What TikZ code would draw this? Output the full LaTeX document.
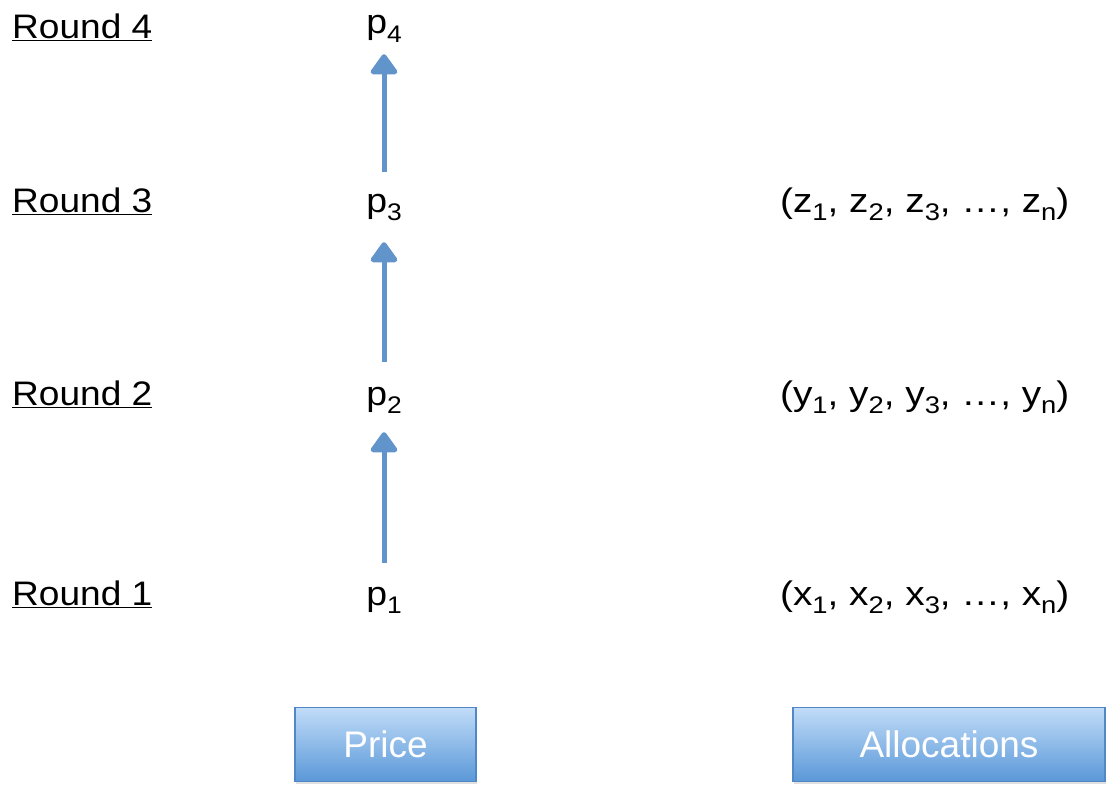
\documentclass[tikz,border=0pt]{standalone}
\usepackage{fontspec}
\setmainfont{Liberation Sans}
\usetikzlibrary{arrows.meta,shadows}
\definecolor{arrowblue}{RGB}{98,148,204}
\definecolor{boxtop}{RGB}{193,220,248}
\definecolor{boxbot}{RGB}{90,152,216}
\definecolor{boxline}{RGB}{82,135,198}
\newcommand{\lsub}[1]{\raisebox{-0.26em}{\fontsize{24}{24}\selectfont #1}}
\newcommand{\wide}[2]{\scalebox{#1}[1]{#2}}
\tikzset{
  roundlbl/.style={anchor=base west,inner sep=0pt,font=\fontsize{34}{40}\selectfont},
  plbl/.style={anchor=base,inner sep=0pt,text height=20pt,text depth=8pt,font=\fontsize{34}{40}\selectfont},
  tuple/.style={anchor=base west,inner sep=0pt,font=\fontsize{34}{40}\selectfont},
  uparrow/.style={draw=arrowblue,line width=5pt,-{Triangle[width=30pt,length=22pt,round]}},
  btn/.style={draw=boxline,line width=1.2pt,top color=boxtop,bottom color=boxbot,
    text=white,font=\fontsize{37}{40}\selectfont,minimum height=74pt,inner sep=0pt,
    drop shadow={opacity=0.25,shadow xshift=1pt,shadow yshift=-2pt}}
}
\begin{document}
\begin{tikzpicture}[x=1pt,y=-1pt]
\useasboundingbox (0,0) rectangle (1107,784);
% round labels
\node[roundlbl] (r4) at (12,38) {\wide{1.09}{\underline{Round 4}}};
\node[roundlbl] (r3) at (12,212) {\wide{1.09}{\underline{Round 3}}};
\node[roundlbl] (r2) at (12,405) {\wide{1.09}{\underline{Round 2}}};
\node[roundlbl] (r1) at (12,605) {\wide{1.09}{\underline{Round 1}}};
% prices
\node[plbl] (p4) at (384,34) {\wide{1.1}{p\lsub{4}}};
\node[plbl] (p3) at (384,212) {\wide{1.1}{p\lsub{3}}};
\node[plbl] (p2) at (384,405) {\wide{1.1}{p\lsub{2}}};
\node[plbl] (p1) at (384,605) {\wide{1.1}{p\lsub{1}}};
% arrows
\draw[uparrow,shorten <=22pt,shorten >=19pt] (p1.north) -- (p2.south);
\draw[uparrow,shorten <=23pt,shorten >=22pt] (p2.north) -- (p3.south);
\draw[uparrow,shorten <=20pt,shorten >=12pt] (p3.north) -- (p4.south);
% allocations
\node[tuple] (z) at (780,212) {\wide{1.14}{(z\lsub{1}, z\lsub{2}, z\lsub{3}, \dots, z\lsub{n})}};
\node[tuple] (y) at (780,405) {\wide{1.14}{(y\lsub{1}, y\lsub{2}, y\lsub{3}, \dots, y\lsub{n})}};
\node[tuple] (x) at (780,605) {\wide{1.14}{(x\lsub{1}, x\lsub{2}, x\lsub{3}, \dots, x\lsub{n})}};
% buttons
\node[btn,minimum width=181pt] (price) at (385.5,744.5) {Price};
\node[btn,minimum width=312pt] (alloc) at (949,744.5) {Allocations};
\end{tikzpicture}
\end{document}
